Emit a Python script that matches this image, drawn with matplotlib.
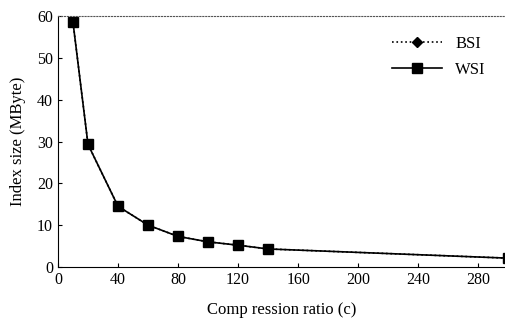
import matplotlib
matplotlib.use("Agg")
import matplotlib.pyplot as plt

# dati
ratio = [10, 20, 40, 60, 80, 100, 120, 140, 300]
bsi_size = [58.5, 29.3, 14.5, 10.0, 7.3, 6.0, 5.2, 4.3, 2.1]
wsi_size = [58.5, 29.3, 14.5, 10.0, 7.3, 6.0, 5.2, 4.3, 2.1]
x_ticks = [0, 40, 80, 120, 160, 200, 240, 280]
y_ticks = [0, 10, 20, 30, 40, 50, 60]

plt.rcParams['font.family'] = ['Liberation Serif', 'DejaVu Serif']

fig = plt.figure(figsize=(5.06, 3.22), dpi=100)
ax = fig.add_axes([0.1146, 0.171, 0.884, 0.779])

ax.plot(ratio, bsi_size, color='black', linestyle=':', linewidth=1.2,
        marker='D', markersize=5, label='BSI')
ax.plot(ratio, wsi_size, color='black', linestyle='-', linewidth=1.2,
        marker='s', markersize=7, label='WSI')

ax.set_xlim(0, 298)
ax.set_ylim(0, 60)
ax.set_xticks(x_ticks)
ax.set_yticks(y_ticks)
ax.tick_params(direction='in', length=3, labelsize=11.5, width=0.8)

ax.spines['right'].set_visible(False)
ax.spines['top'].set_linestyle(':')
ax.spines['top'].set_linewidth(0.8)
ax.spines['top'].set_color('#555555')

ax.set_xlabel('Comp ression ratio (c)', fontsize=12, labelpad=10)
ax.set_ylabel('Index size (MByte)', fontsize=12, labelpad=8)

ax.legend(loc='upper right', bbox_to_anchor=(0.99, 0.98), frameon=False,
          fontsize=12, handlelength=3, labelspacing=0.6)

fig.savefig('out.png', dpi=100)
